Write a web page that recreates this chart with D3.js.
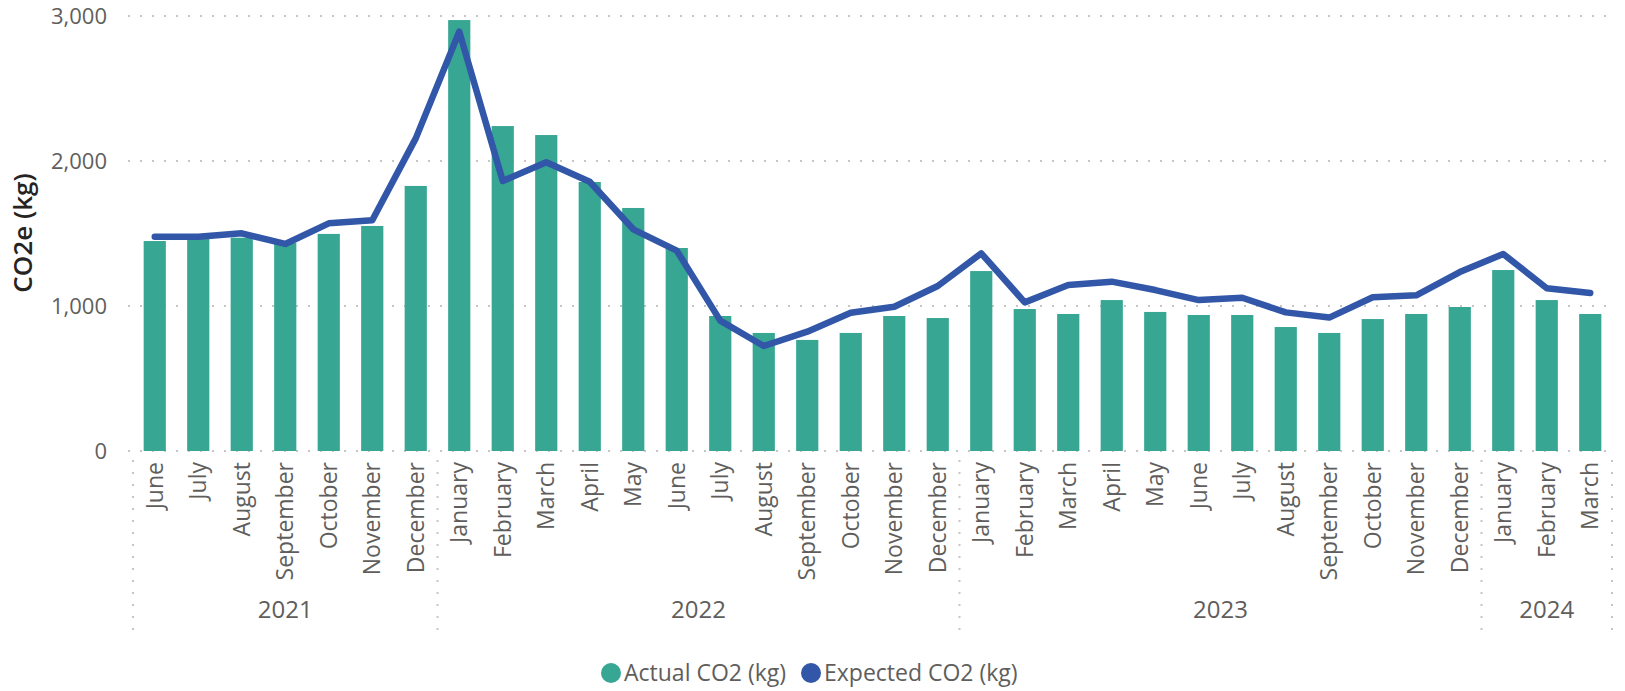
<!DOCTYPE html>
<html>
<head>
<meta charset="utf-8">
<script src="https://cdn.jsdelivr.net/npm/d3@7"></script>
<style>
  html, body { margin: 0; padding: 0; background: #fff; }
  svg { display: block; font-family: "Open Sans", "Noto Sans", sans-serif; }
</style>
</head>
<body>
<svg id="chart" width="1625" height="691"></svg>
<script>
const months = ["June","July","August","September","October","November","December",
  "January","February","March","April","May","June","July","August","September","October","November","December",
  "January","February","March","April","May","June","July","August","September","October","November","December",
  "January","February","March"];
const years = ["2021","2022","2023","2024"];
const yearOfMonth = [
  "2021","2021","2021","2021","2021","2021","2021",
  "2022","2022","2022","2022","2022","2022","2022","2022","2022","2022","2022","2022",
  "2023","2023","2023","2023","2023","2023","2023","2023","2023","2023","2023","2023",
  "2024","2024","2024"];
const actualCO2 = [1448,1465,1471,1435,1497,1552,1828,
  2972,2241,2179,1855,1676,1400,931,814,766,814,931,917,
  1241,979,945,1041,959,938,938,855,814,910,945,993,
  1248,1041,945];
const expectedCO2 = [1478,1478,1501,1428,1570,1591,2156,
  2892,1862,1991,1857,1529,1382,899,724,823,954,995,1138,
  1363,1025,1145,1168,1110,1041,1057,956,920,1060,1074,1234,
  1359,1122,1090];
const yTicks = [0,1000,2000,3000];
const seriesNames = ["Actual CO2 (kg)","Expected CO2 (kg)"];

const barColor = "#37A693";
const lineColor = "#3257A8";
const textColor = "#605E5C";
const gridColor = "#C8C6C4";

const svg = d3.select("#chart");
const idx = d3.range(months.length);

const x = d3.scaleBand().domain(idx).range([133, 1612]).paddingInner(0.49).paddingOuter(0.245);
const y = d3.scaleLinear().domain([0, 3000]).range([451, 16]);

// gridlines
svg.append("g").selectAll("line").data(yTicks).join("line")
  .attr("x1", 128).attr("x2", 1614)
  .attr("y1", d => y(d)).attr("y2", d => y(d))
  .attr("stroke", gridColor).attr("stroke-width", 2)
  .attr("stroke-dasharray", "2,10");

// y axis labels
const yAxis = d3.axisLeft(y).tickValues(yTicks).tickFormat(d3.format(",")).tickSize(0).tickPadding(0);
const yg = svg.append("g").attr("transform", "translate(107,0)").call(yAxis);
yg.select(".domain").remove();
yg.selectAll("text").attr("fill", textColor).style("font-size", "22px").style("font-family", "'Open Sans', sans-serif");

// y title
svg.append("text")
  .attr("transform", "translate(23,233) rotate(-90)")
  .attr("text-anchor", "middle").attr("dy", "0.35em")
  .attr("fill", "#252423").style("font-size", "26px").style("font-weight", 600)
  .text("CO2e (kg)");

// bars
svg.append("g").selectAll("rect").data(idx).join("rect")
  .attr("x", i => x(i)).attr("width", x.bandwidth())
  .attr("y", i => y(actualCO2[i])).attr("height", i => y(0) - y(actualCO2[i]))
  .attr("fill", barColor);

// line
const line = d3.line().x(i => x(i) + x.bandwidth() / 2).y(i => y(expectedCO2[i]));
svg.append("path").datum(idx).attr("d", line)
  .attr("fill", "none").attr("stroke", lineColor).attr("stroke-width", 6.5)
  .attr("stroke-linejoin", "round").attr("stroke-linecap", "round");

// month labels
const xAxis = d3.axisBottom(x).tickFormat(i => months[i]).tickSize(0).tickPadding(0);
const xg = svg.append("g").attr("transform", "translate(0,462)").call(xAxis);
xg.select(".domain").remove();
xg.selectAll("text")
  .attr("transform", "rotate(-90)").attr("text-anchor", "end")
  .attr("x", 0).attr("y", 0).attr("dy", "0.35em")
  .attr("fill", textColor).style("font-size", "23px").style("font-family", "'Open Sans', sans-serif");

// year separators and labels
const yearStart = years.map(yr => yearOfMonth.indexOf(yr));
const step = x.step();
const leftEdge = i => x(i) - step * x.paddingInner() / 2;
const sepXs = yearStart.map(leftEdge).concat([x.range()[1]]);
svg.append("g").selectAll("line").data(sepXs).join("line")
  .attr("x1", d => d).attr("x2", d => d).attr("y1", 460).attr("y2", 630)
  .attr("stroke", gridColor).attr("stroke-width", 2).attr("stroke-dasharray", "2,10");
svg.append("g").selectAll("text").data(years).join("text")
  .attr("x", (d, k) => (sepXs[k] + sepXs[k + 1]) / 2)
  .attr("y", 610).attr("dy", "0.35em").attr("text-anchor", "middle")
  .attr("fill", textColor).style("font-size", "24px")
  .text(d => d);

// legend
const legend = svg.append("g");
const legendItems = [{name: seriesNames[0], color: barColor, x: 611}, {name: seriesNames[1], color: lineColor, x: 811}];
legendItems.forEach(it => {
  legend.append("circle").attr("cx", it.x).attr("cy", 673).attr("r", 10).attr("fill", it.color);
  legend.append("text").attr("x", it.x + 13).attr("y", 673).attr("dy", "0.35em")
    .attr("fill", textColor).style("font-size", "23px").text(it.name);
});
</script>
</body>
</html>
